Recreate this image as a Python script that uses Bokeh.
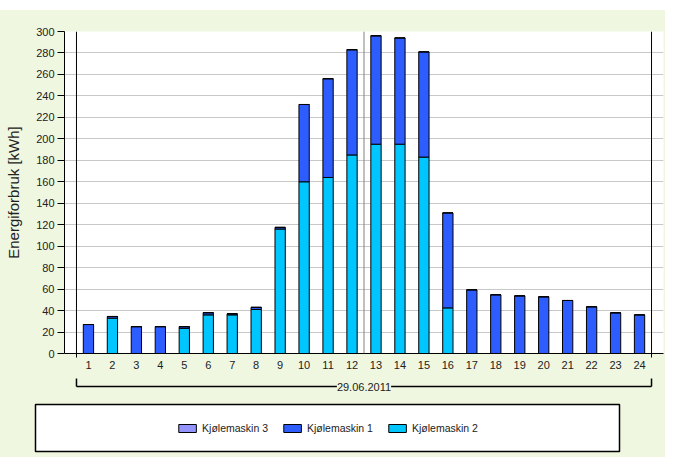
import numpy as np
from bokeh.plotting import figure
from bokeh.models import (ColumnDataSource, Range1d, FixedTicker, Span, Label,
                          Legend, LegendItem, Spacer)
from bokeh.layouts import column
from bokeh.embed import file_html
from bokeh.resources import INLINE

# ---- data ----
hours = list(range(1, 25))
hour_labels = [str(h) for h in hours]
date_label = "29.06.2011"
series_names = ["Kjølemaskin 3", "Kjølemaskin 1", "Kjølemaskin 2"]
kjolemaskin2 = [0, 33, 0, 0, 23.5, 36, 36, 41, 116, 160, 164, 185, 195, 195, 183, 42.5,
                0, 0, 0, 0, 0, 0, 0, 0]
kjolemaskin1 = [27, 1.5, 25, 25, 1.5, 2, 1, 2, 1.5, 72, 92, 98, 101, 99, 98, 88.5,
                59.3, 54.7, 53.7, 52.8, 49.4, 43.5, 37.9, 36]
kjolemaskin3 = [0] * 24
now_marker = 12.5
y_ticks = list(range(0, 301, 20))

# ---- style ----
GREEN = "#F0F7E1"
C1 = "#2D5CFF"
C2 = "#00C6FF"
C3 = "#9494FF"
FONT = "Liberation Sans"

src = ColumnDataSource(dict(x=hours, k2=kjolemaskin2, k1=kjolemaskin1, k3=kjolemaskin3))

x_range = Range1d(0, 25)
p = figure(width=665, height=362, x_range=x_range, y_range=Range1d(0, 300),
           output_backend="svg", toolbar_location=None, frame_align=False,
           min_border_left=64, min_border_right=2, min_border_top=21, min_border_bottom=19)
p.border_fill_color = GREEN
p.background_fill_color = "white"
p.outline_line_color = None

p.vbar_stack(["k2", "k1", "k3"], x="x", width=0.43, source=src,
             fill_color=[C2, C1, C3], line_color="black", line_width=1)

# y axis
p.yaxis.ticker = FixedTicker(ticks=y_ticks)
p.yaxis.axis_label = "Energiforbruk [kWh]"
p.yaxis.axis_label_text_font = FONT
p.yaxis.axis_label_text_font_size = "15px"
p.yaxis.axis_label_text_font_style = "normal"
p.yaxis.axis_label_text_color = "#222222"
p.yaxis.axis_label_standoff = 11
p.yaxis.major_label_text_font = FONT
p.yaxis.major_label_text_font_size = "11px"
p.yaxis.major_label_text_color = "#222222"
p.yaxis.major_label_standoff = 3
p.yaxis.major_tick_out = 7
p.yaxis.major_tick_in = 0
p.yaxis.minor_tick_line_color = None
p.yaxis.axis_line_color = "black"
p.yaxis.major_tick_line_color = "black"

# x axis
p.xaxis.ticker = FixedTicker(ticks=hours, minor_ticks=[hours[0] - 0.5, hours[-1] + 0.5])
p.xaxis.major_label_overrides = {h: l for h, l in zip(hours, hour_labels)}
p.xaxis.major_tick_out = 0
p.xaxis.major_tick_in = 0
p.xaxis.minor_tick_out = 4
p.xaxis.minor_tick_in = 0
p.xaxis.minor_tick_line_color = "black"
p.xaxis.major_label_standoff = 3
p.xaxis.major_label_text_font = FONT
p.xaxis.major_label_text_font_size = "11px"
p.xaxis.major_label_text_color = "#222222"
p.xaxis.axis_line_color = "black"

p.xgrid.grid_line_color = None
p.ygrid.grid_line_color = "#C8C8C8"
p.ygrid.ticker = FixedTicker(ticks=y_ticks)

p.add_layout(Span(location=hours[0] - 0.5, dimension="height", line_color="black", line_width=1))
p.add_layout(Span(location=hours[-1] + 0.5, dimension="height", line_color="black", line_width=1))
p.add_layout(Span(location=now_marker, dimension="height", line_color="#808080", line_width=1))

# ---- bracket with date ----
b = figure(width=665, height=23, x_range=x_range, y_range=Range1d(0, 23),
           x_axis_type=None, y_axis_type=None, frame_align=False,
           output_backend="svg", toolbar_location=None,
           min_border_left=64, min_border_right=2, min_border_top=0, min_border_bottom=0)
b.border_fill_color = GREEN
b.background_fill_color = GREEN
b.outline_line_color = None
x0, x1 = hours[0] - 0.5, hours[-1] + 0.5
b.segment(x0=[x0, x0, x1], y0=[9, 9, 9], x1=[x1, x0, x1], y1=[9, 17, 17],
          line_color="black", line_width=1.5)
b.add_layout(Label(x=(x0 + x1) / 2, y=9, text=date_label, text_align="center",
                   text_baseline="middle", text_font=FONT, text_font_size="11px",
                   text_color="#222222", background_fill_color=GREEN))

# ---- legend box ----
lg = figure(width=665, height=62, x_range=Range1d(0, 1), y_range=Range1d(0, 1),
            x_axis_type=None, y_axis_type=None, frame_align=False,
            output_backend="svg", toolbar_location=None,
            min_border_left=35, min_border_right=46, min_border_top=9, min_border_bottom=6)
lg.border_fill_color = GREEN
lg.background_fill_color = "white"
lg.outline_line_color = "black"
lg.outline_line_width = 1.5
dummy = ColumnDataSource(dict(x=np.array([np.nan]), top=np.array([np.nan])))
items = []
for name, col in zip(series_names, [C3, C1, C2]):
    r = lg.vbar(x="x", top="top", width=0.1, source=dummy, fill_color=col, line_color="black")
    items.append(LegendItem(label=name, renderers=[r]))
legend = Legend(items=items, orientation="horizontal", location="center",
                border_line_color=None, background_fill_alpha=0,
                glyph_width=22, glyph_height=10, label_standoff=4, spacing=13,
                padding=0, margin=0, label_text_font=FONT, label_text_font_size="10.5px",
                label_text_color="#222222")
lg.add_layout(legend, "center")

inner = column(p, b, lg, spacing=0, width=665, styles={"background-color": GREEN})
layout = column(Spacer(width=665, height=10), inner, spacing=0)
open("out.html", "w").write(file_html(layout, INLINE))
